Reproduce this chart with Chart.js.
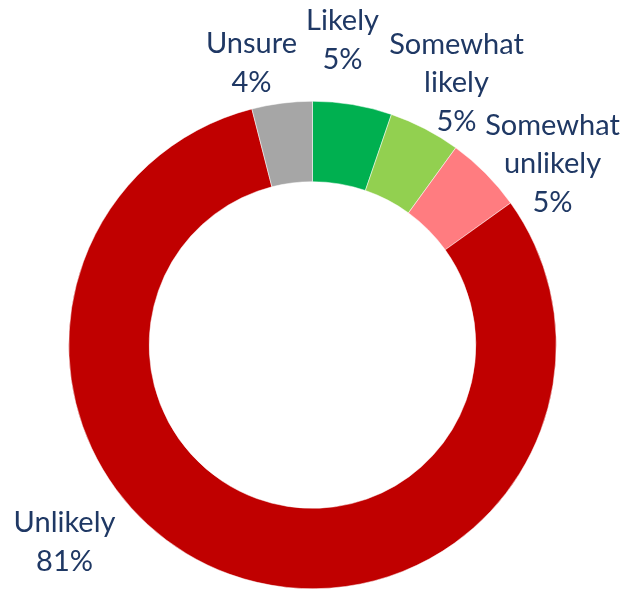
<!DOCTYPE html>
<html>
<head>
<meta charset="utf-8">
<script src="https://cdn.jsdelivr.net/npm/chart.js@4"></script>
<style>
html,body{margin:0;padding:0;background:#fff;}
#wrap{width:625px;height:589px;position:relative;}
</style>
</head>
<body>
<div id="wrap"><canvas id="c" width="625" height="589"></canvas></div>
<script>
// Data
const categories = ["Likely", "Somewhat likely", "Somewhat unlikely", "Unlikely", "Unsure"];
const values = [5.25, 4.75, 5.1, 80.9, 4.0];
const colors = ["#00B050", "#92D050", "#FF7C80", "#C00000", "#A6A6A6"];

// Label placement (offset of label block centre from chart centre, px)
const labelOffsets = [[30, -305], [144, -262], [240, -181], [-248, 197], [-61, -282]];

const labelPlugin = {
  id: 'outerLabels',
  afterDatasetsDraw(chart) {
    const ctx = chart.ctx;
    const meta = chart.getDatasetMeta(0);
    const total = values.reduce((a, b) => a + b, 0);
    ctx.save();
    ctx.font = '29px Lato';
    ctx.fillStyle = '#1F3864';
    ctx.textAlign = 'center';
    ctx.textBaseline = 'middle';
    const lh = 38.5;
    meta.data.forEach((arc, i) => {
      const lines = categories[i].split(' ');
      lines.push(Math.round(values[i] / total * 100) + '%');
      const cx = arc.x + labelOffsets[i][0];
      const cy = arc.y + labelOffsets[i][1];
      const startY = cy - (lines.length - 1) * lh / 2;
      lines.forEach((t, k) => ctx.fillText(t, cx, startY + k * lh));
    });
    ctx.restore();
  }
};

new Chart(document.getElementById('c'), {
  type: 'doughnut',
  data: {
    labels: categories,
    datasets: [{
      data: values,
      backgroundColor: colors,
      borderColor: '#ffffff',
      borderWidth: 0.5
    }]
  },
  options: {
    responsive: false,
    animation: false,
    cutout: '67%',
    layout: { padding: { left: 68, right: 68, top: 101, bottom: 0 } },
    plugins: {
      legend: { display: false },
      tooltip: { enabled: false }
    }
  },
  plugins: [labelPlugin]
});
</script>
</body>
</html>
